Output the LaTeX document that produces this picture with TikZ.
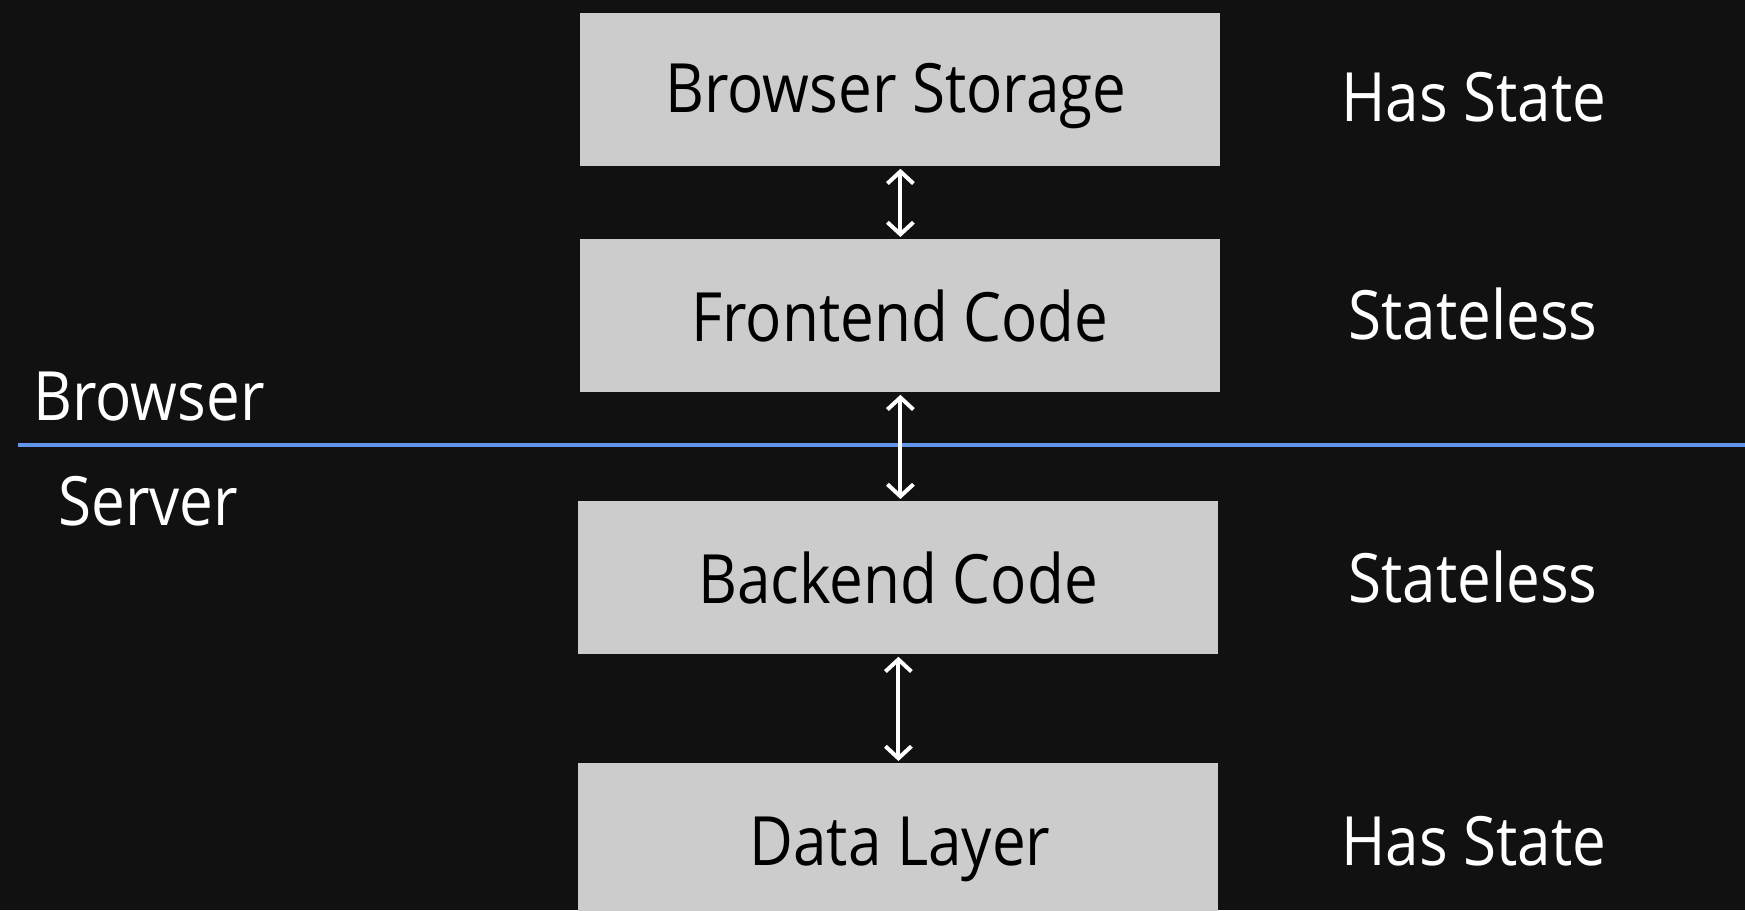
\documentclass[tikz,border=0pt]{standalone}
\usepackage{fontspec}
\setmainfont{Open Sans}[FakeStretch=0.885]
\usetikzlibrary{arrows.meta}
\definecolor{bgdark}{HTML}{111111}
\definecolor{boxgray}{HTML}{CCCCCC}
\definecolor{divblue}{RGB}{100,149,237}
\begin{document}
\begin{tikzpicture}[x=0.5pt,y=-0.5pt,
  layer/.style={fill=boxgray, draw=none, minimum width=320pt, minimum height=76.5pt,
    inner sep=0pt, anchor=north west},
  boxtext/.style={text=black, font=\fontsize{34}{40}\selectfont, anchor=base, inner sep=0pt},
  sidetext/.style={text=white, font=\fontsize{34}{40}\selectfont, anchor=base, inner sep=0pt},
  zonetext/.style={text=white, font=\fontsize{34}{40}\selectfont, anchor=base west, inner sep=0pt},
  link/.style={draw=white, line width=2pt, {Straight Barb[length=6pt,width=13pt]}-{Straight Barb[length=6pt,width=13pt]}, shorten <=1pt, shorten >=1pt}]
  % canvas
  \fill[bgdark] (0,0) rectangle (1745,910);
  \useasboundingbox (0,0) rectangle (1745,910);
  \clip (0,0) rectangle (1745,910);

  % layer boxes
  \node[layer] (bs) at (580,13) {};
  \node[layer] (fe) at (580,239) {};
  \node[layer] (be) at (578,501) {};
  \node[layer] (dl) at (578,763) {};

  % box captions
  \node[boxtext] (bst) at (896,112) {Browser Storage};
  \node[boxtext] (fet) at (900,341) {Frontend Code};
  \node[boxtext] (bet) at (898,603) {Backend Code};
  \node[boxtext] (dlt) at (900,865) {Data Layer};

  % state annotations
  \node[sidetext] (s1) at (1474,121) {Has State};
  \node[sidetext] (s2) at (1473,339) {Stateless};
  \node[sidetext] (s3) at (1473,602) {Stateless};
  \node[sidetext] (s4) at (1474,865) {Has State};

  % browser / server divide
  \coordinate (divl) at (18,445.3);
  \coordinate (divr) at (1745,445.3);
  \draw[divblue, line width=2pt] (divl) -- (divr);
  \node[zonetext] (zb) at (33,420) {Browser};
  \node[zonetext] (zs) at (58,525) {Server};

  % connectors
  \draw[link] (bs.south) -- (fe.north);
  \draw[link] (fe.south) -- (fe.south |- be.north);
  \draw[link] (be.south) -- (dl.north);
\end{tikzpicture}
\end{document}
